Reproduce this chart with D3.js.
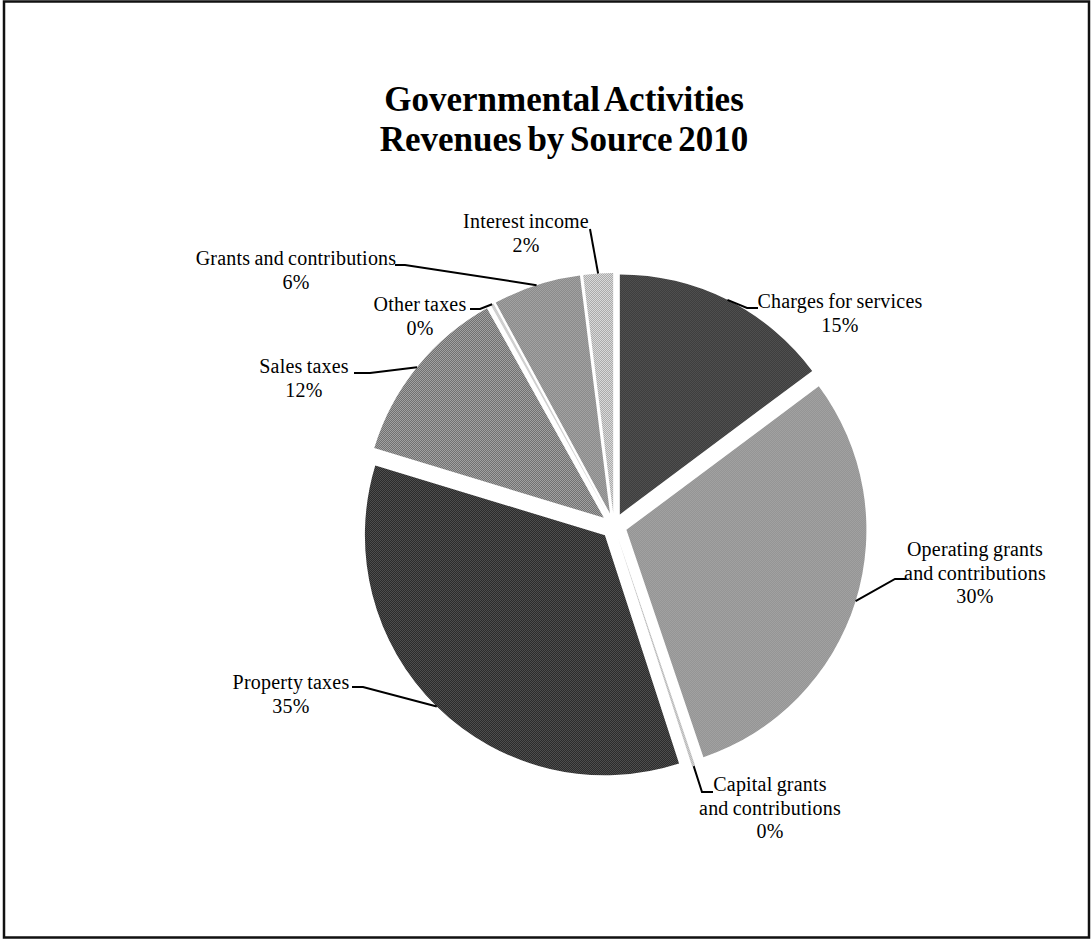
<!DOCTYPE html>
<html>
<head>
<meta charset="utf-8">
<script src="https://cdn.jsdelivr.net/npm/d3@7"></script>
<style>
  html, body { margin: 0; padding: 0; background: #fff; }
  svg text { font-family: "Liberation Serif", "Times New Roman", serif; fill: #000; }
</style>
</head>
<body>
<svg id="chart" width="1092" height="941"></svg>
<script>
// ---- data ----
const categories = [
  "Charges for services",
  "Operating grants and contributions",
  "Capital grants and contributions",
  "Property taxes",
  "Sales taxes",
  "Other taxes",
  "Grants and contributions",
  "Interest income"
];
const values = [14.8, 30.0, 0.2, 34.7, 12.2, 0.2, 5.9, 2.0];
const percentLabels = ["15%", "30%", "0%", "35%", "12%", "0%", "6%", "2%"];
const labelLines = [
  ["Charges for services"],
  ["Operating grants", "and contributions"],
  ["Capital grants", "and contributions"],
  ["Property taxes"],
  ["Sales taxes"],
  ["Other taxes"],
  ["Grants and contributions"],
  ["Interest income"]
];
const titleLines = ["Governmental Activities", "Revenues by Source 2010"];

// ---- layout / style (not data) ----
const W = 1092, H = 941;
const cx = 614, cy = 526, R = 240, explode = 13;
// pattern colours [base, dot]
const fills = [
  ["#121212", "#7a7a7a"],
  ["#6c6c6c", "#cacaca"],
  ["#9a9a9a", "#eeeeee"],
  ["#0c0c0c", "#6c6c6c"],
  ["#5a5a5a", "#b8b8b8"],
  ["#aaaaaa", "#f4f4f4"],
  ["#666666", "#c6c6c6"],
  ["#9c9c9c", "#e8e8e8"]
];
// label placement: text centre x, first baseline y, elbow point, text-side end of leader
const labelLayout = [
  { x: 840, y: 308, elbow: [747, 308], end: [758, 308] },
  { x: 975, y: 556, elbow: [895, 579], end: [906, 579] },
  { x: 770, y: 791, elbow: [702, 792], end: [713, 792] },
  { x: 291, y: 689, elbow: [363, 687], end: [352, 687] },
  { x: 304, y: 373, elbow: [370, 373], end: [354, 373] },
  { x: 420, y: 311, elbow: [480, 309], end: [470, 309] },
  { x: 296, y: 265, elbow: [405, 265], end: [395, 265] },
  { x: 526, y: 228, elbow: [590, 229], end: [590, 229] }
];

const svg = d3.select("#chart");

// border
svg.append("rect")
  .attr("x", 4).attr("y", 1.5)
  .attr("width", 1085).attr("height", 936)
  .attr("fill", "#fff").attr("stroke", "#111").attr("stroke-width", 2.5);

// patterns
const defs = svg.append("defs");
fills.forEach((f, i) => {
  const p = defs.append("pattern")
    .attr("id", "pat" + i)
    .attr("patternUnits", "userSpaceOnUse")
    .attr("width", 2).attr("height", 2);
  p.append("rect").attr("width", 2).attr("height", 2).attr("fill", f[0]);
  p.append("rect").attr("x", 0).attr("y", 0).attr("width", 1).attr("height", 1).attr("fill", f[1]);
  p.append("rect").attr("x", 1).attr("y", 1).attr("width", 1).attr("height", 1).attr("fill", f[1]);
});

// title
const title = svg.append("text")
  .attr("x", 564).attr("text-anchor", "middle")
  .attr("font-weight", "bold").attr("font-size", 35)
  .attr("word-spacing", -3);
titleLines.forEach((t, i) => {
  title.append("tspan").attr("x", 564).attr("y", 111 + i * 40).text(t);
});

// pie
const pie = d3.pie().sort(null).value(d => d).startAngle(0).endAngle(2 * Math.PI);
const arcs = pie(values);
const arc = d3.arc().innerRadius(0).outerRadius(R);

const g = svg.append("g").attr("transform", `translate(${cx},${cy})`);

function mid(d) { return (d.startAngle + d.endAngle) / 2; }

g.selectAll("path.slice")
  .data(arcs)
  .join("path")
  .attr("class", "slice")
  .attr("d", arc)
  .attr("fill", (d, i) => `url(#pat${i})`)
  .attr("transform", d => {
    const a = mid(d);
    return `translate(${explode * Math.sin(a)},${-explode * Math.cos(a)})`;
  });

// leader lines & labels
arcs.forEach((d, i) => {
  const a = mid(d);
  const px = cx + (R + explode) * Math.sin(a);
  const py = cy - (R + explode) * Math.cos(a);
  const L = labelLayout[i];
  svg.append("polyline")
    .attr("points", [[px, py], L.elbow, L.end].map(p => p.join(",")).join(" "))
    .attr("fill", "none").attr("stroke", "#000").attr("stroke-width", 2);

  const t = svg.append("text")
    .attr("text-anchor", "middle")
    .attr("font-size", 20)
    .attr("letter-spacing", 0.2)
    .attr("word-spacing", -1);
  const lines = labelLines[i].concat([percentLabels[i]]);
  lines.forEach((s, k) => {
    t.append("tspan").attr("x", L.x).attr("y", L.y + k * 23.5).text(s);
  });
});
</script>
</body>
</html>
